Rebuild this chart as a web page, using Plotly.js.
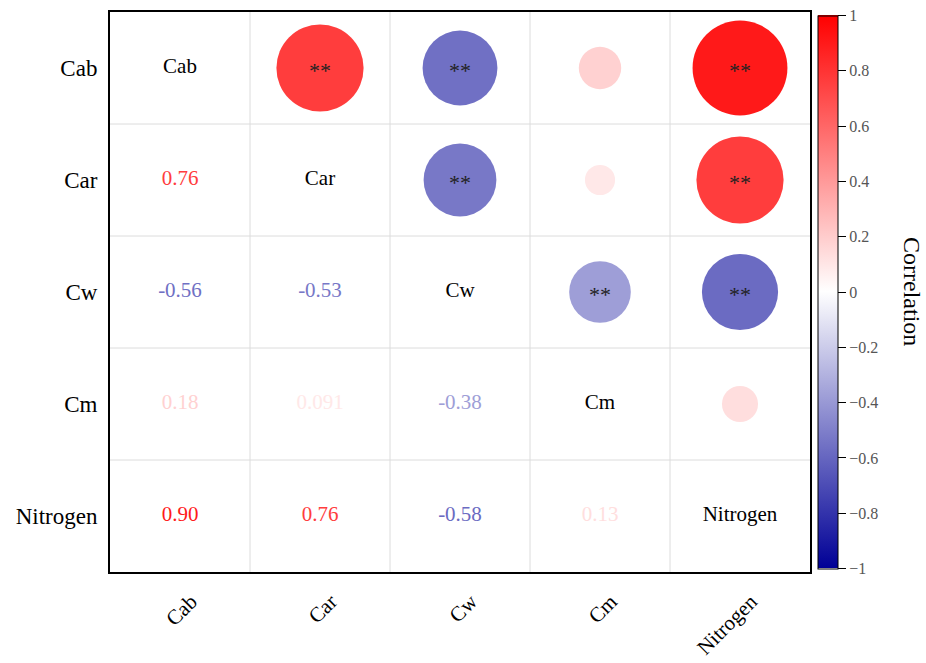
<!DOCTYPE html>
<html>
<head>
<meta charset="utf-8">
<script src="https://cdn.plot.ly/plotly-3.0.1.min.js"></script>
<style>
  html, body { margin: 0; padding: 0; background: #fff; }
  #chart { width: 926px; height: 663px; }
</style>
</head>
<body>
<div id="chart"></div>
<script>
// Variables in the correlation matrix
const variables = ['Cab', 'Car', 'Cw', 'Cm', 'Nitrogen'];

// Pearson correlation, one row per variable
const rowCab      = [1.00,  0.76, -0.56,  0.18,  0.90];
const rowCar      = [0.76,  1.00, -0.53,  0.091, 0.76];
const rowCw       = [-0.56, -0.53, 1.00, -0.38, -0.58];
const rowCm       = [0.18,  0.091, -0.38, 1.00,  0.13];
const rowNitrogen = [0.90,  0.76, -0.58,  0.13,  1.00];
const corrRows = [rowCab, rowCar, rowCw, rowCm, rowNitrogen];

// Significance marks for the upper triangle (p < 0.01 -> '**')
const sigCab = ['', '**', '**', '', '**'];
const sigCar = ['', '', '**', '', '**'];
const sigCw  = ['', '', '', '**', '**'];
const sigCm  = ['', '', '', '', ''];
const sigNit = ['', '', '', '', ''];
const sigRows = [sigCab, sigCar, sigCw, sigCm, sigNit];

// Colour bar ticks
const barTicks = [-1, -0.8, -0.6, -0.4, -0.2, 0, 0.2, 0.4, 0.6, 0.8, 1];
const barTickText = ['\u22121', '\u22120.8', '\u22120.6', '\u22120.4', '\u22120.2', '0', '0.2', '0.4', '0.6', '0.8', '1'];

// Diverging scale: dark blue -> white -> red
const scaleStops = [[0, [0, 0, 150]], [0.5, [255, 255, 255]], [1, [255, 0, 0]]];
const colorscale = scaleStops.map(s => [s[0], 'rgb(' + s[1].join(',') + ')']);

function colorFor(v) {
  const t = (v + 1) / 2;
  for (let i = 1; i < scaleStops.length; i++) {
    const a = scaleStops[i - 1], b = scaleStops[i];
    if (t <= b[0]) {
      const f = (t - a[0]) / (b[0] - a[0]);
      const c = a[1].map((x, k) => Math.round(x + (b[1][k] - x) * f));
      return 'rgb(' + c.join(',') + ')';
    }
  }
  return 'rgb(' + scaleStops[scaleStops.length - 1][1].join(',') + ')';
}

const serif = 'Liberation Serif';

// Build the layers: circles (upper), coefficients (lower), names (diagonal)
const cx = [], cy = [], cv = [], cs = [];
const lx = [], ly = [], lt = [], lc = [];
const dx = [], dy = [], dt = [];
const starNotes = [];
const n = variables.length;
for (let i = 0; i < n; i++) {
  for (let j = 0; j < n; j++) {
    const r = corrRows[i][j];
    if (j > i) {
      cx.push(j); cy.push(i); cv.push(r);
      cs.push(100 * Math.sqrt(Math.abs(r)));
      if (sigRows[i][j]) {
        starNotes.push({
          text: sigRows[i][j], x: j, y: i, xref: 'x', yref: 'y',
          showarrow: false, yshift: -2,
          font: { family: serif, size: 22, color: '#222' }
        });
      }
    } else if (j < i) {
      lx.push(j); ly.push(i);
      lt.push(r.toPrecision(2));
      lc.push(colorFor(r));
    } else {
      dx.push(j); dy.push(i); dt.push(variables[i]);
    }
  }
}

const circles = {
  type: 'scatter', mode: 'markers',
  x: cx, y: cy,
  marker: {
    size: cs, sizemode: 'diameter', color: cv, opacity: 1,
    colorscale: colorscale, cmin: -1, cmax: 1,
    line: { width: 0 },
    showscale: true,
    colorbar: {
      x: 1.0114, xanchor: 'left', xref: 'paper', xpad: 0,
      y: 0.5, yanchor: 'middle', len: 0.988, lenmode: 'fraction', ypad: 0,
      thickness: 20, thicknessmode: 'pixels',
      outlinewidth: 1, outlinecolor: '#000',
      tickmode: 'array', tickvals: barTicks, ticktext: barTickText,
      ticks: 'outside', ticklen: 8, tickwidth: 1, tickcolor: '#000',
      tickfont: { family: serif, size: 16, color: '#555' }
    }
  },
  hoverinfo: 'skip', showlegend: false
};

const coefs = {
  type: 'scatter', mode: 'text',
  x: lx, y: ly, text: lt,
  textposition: 'middle center',
  textfont: { family: serif, size: 21, color: lc },
  hoverinfo: 'skip', showlegend: false
};

const names = {
  type: 'scatter', mode: 'text',
  x: dx, y: dy, text: dt,
  textposition: 'middle center',
  textfont: { family: serif, size: 21, color: '#000' },
  hoverinfo: 'skip', showlegend: false
};

// Light cell dividers between categories
const shapes = [];
for (let k = 1; k < n; k++) {
  shapes.push({ type: 'line', layer: 'below', xref: 'x', yref: 'paper',
    x0: k - 0.5, x1: k - 0.5, y0: 0, y1: 1, line: { color: '#dcdcdc', width: 1 } });
  shapes.push({ type: 'line', layer: 'below', xref: 'paper', yref: 'y',
    x0: 0, x1: 1, y0: k - 0.5, y1: k - 0.5, line: { color: '#dcdcdc', width: 1 } });
}

const layout = {
  width: 926, height: 663,
  margin: { l: 110, r: 116, t: 12, b: 91 },
  paper_bgcolor: '#fff', plot_bgcolor: '#fff',
  font: { family: serif, color: '#000' },
  xaxis: {
    range: [-0.5, n - 0.5], showgrid: false, zeroline: false,
    tickmode: 'array', tickvals: variables.map((_, i) => i), ticktext: variables,
    tickangle: -45, ticks: '', ticklabelshift: 11, ticklabelstandoff: 7,
    tickfont: { family: serif, size: 21, color: '#000' },
    showline: true, mirror: true, linecolor: '#000', linewidth: 2,
    fixedrange: true
  },
  yaxis: {
    range: [n - 0.5, -0.5], showgrid: false, zeroline: false,
    tickmode: 'array', tickvals: variables.map((_, i) => i), ticktext: variables,
    ticks: '', ticklabelstandoff: 6,
    tickfont: { family: serif, size: 23, color: '#000' },
    showline: true, mirror: true, linecolor: '#000', linewidth: 2,
    fixedrange: true
  },
  shapes: shapes,
  annotations: starNotes.concat([{
    text: 'Correlation', xref: 'paper', yref: 'paper',
    x: 1.1457, y: 0.5, xanchor: 'center', yanchor: 'middle',
    textangle: 90, showarrow: false,
    font: { family: serif, size: 24, color: '#000' }
  }])
};

Plotly.newPlot('chart', [circles, coefs, names], layout, { displayModeBar: false, staticPlot: true });
</script>
</body>
</html>
